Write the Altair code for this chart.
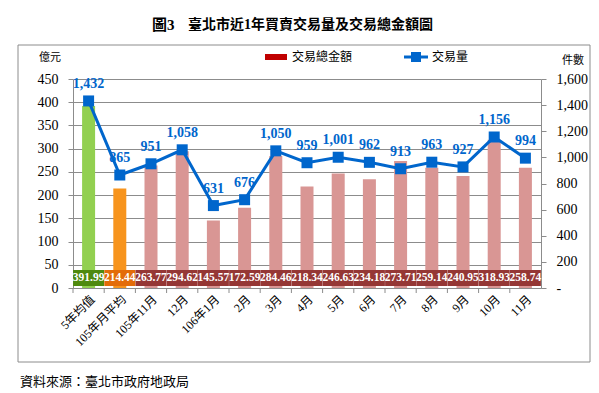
import altair as alt
import pandas as pd

categories = ['5年均值', '105年月平均', '105年11月', '12月', '106年1月', '2月', '3月',
              '4月', '5月', '6月', '7月', '8月', '9月', '10月', '11月']
amounts = [391.99, 214.44, 263.77, 294.62, 145.57, 172.59, 284.46,
           218.34, 246.63, 234.18, 273.71, 259.14, 240.95, 318.93, 258.74]
volumes = [1432, 865, 951, 1058, 631, 676, 1050,
           959, 1001, 962, 913, 963, 927, 1156, 994]
groups = ['avg5', 'avg105'] + ['month'] * 13

title_fig = '圖3'
title_main = '臺北市近1年買賣交易量及交易總金額圖'
left_unit = '億元'
right_unit = '件數'
legend_amount = '交易總金額'
legend_volume = '交易量'
source_text = '資料來源：臺北市政府地政局'

df = pd.DataFrame({'cat': categories, 'amount': amounts, 'volume': volumes,
                   'group': groups})
one = pd.DataFrame({'k': [0]})

SERIF = 'Liberation Serif, Noto Sans CJK TC'
CJK = 'Noto Sans CJK TC'
BLUE = '#0066CC'
GRAY = '#8c8c8c'

xaxis = alt.Axis(title=None, labelAngle=-45, labelAlign='right',
                 labelBaseline='middle', labelFont=SERIF,
                 labelFontSize=12, labelColor='black', ticks=False,
                 labelPadding=9, labelOffset=4, domainColor=GRAY)
xscale = alt.Scale(paddingInner=0, paddingOuter=0)


def X(**kw):
    return alt.X('cat:N', sort=categories, scale=xscale, axis=xaxis, **kw)


bars = alt.Chart(df).mark_bar(size=13).encode(
    x=X(),
    y=alt.Y('amount:Q', scale=alt.Scale(domain=[0, 450]),
            axis=alt.Axis(title=None, values=list(range(0, 451, 50)),
                          labelFont=SERIF, labelFontSize=14, labelColor='black',
                          grid=True, gridColor=GRAY, domainColor=GRAY,
                          tickColor=GRAY, tickSize=5, labelPadding=10)),
    color=alt.Color('group:N', scale=alt.Scale(domain=['avg5', 'avg105', 'month'],
                                               range=['#92D050', '#F7941D', '#D99694']),
                    legend=None),
)

xticks = alt.Chart(df).mark_rule(color=GRAY).encode(
    x=X(bandPosition=0),
    y=alt.value(209), y2=alt.value(214),
)

boxes = alt.Chart(df).mark_bar(size=31).encode(
    x=X(),
    y=alt.value(191), y2=alt.value(207),
    color=alt.Color('group:N', scale=alt.Scale(domain=['avg5', 'avg105', 'month'],
                                               range=['#4E8A0E', '#E36C09', '#953735']),
                    legend=None),
)

box_text = alt.Chart(df).mark_text(color='white', font=SERIF, fontSize=11.5,
                                   fontWeight='bold').encode(
    x=X(), y=alt.value(199),
    text=alt.Text('amount:Q', format='.2f'),
)

vscale = alt.Scale(domain=[0, 1600])
line = alt.Chart(df).mark_line(color=BLUE, strokeWidth=3).encode(
    x=X(),
    y=alt.Y('volume:Q', scale=vscale,
            axis=alt.Axis(title=None, orient='right',
                          values=list(range(0, 1601, 200)),
                          labelExpr="datum.value == 0 ? '-' : format(datum.value, ',')",
                          labelFont=SERIF, labelFontSize=14, labelColor='black',
                          grid=False, domainColor=GRAY, tickColor=GRAY,
                          tickSize=5, labelPadding=10)),
)
points = alt.Chart(df).mark_square(size=121, color=BLUE, opacity=1).encode(
    x=X(), y=alt.Y('volume:Q', scale=vscale, axis=None),
)
vol_text = alt.Chart(df).mark_text(color=BLUE, font=SERIF, fontSize=14,
                                   fontWeight='bold', dy=-17).encode(
    x=X(), y=alt.Y('volume:Q', scale=vscale, axis=None),
    text=alt.Text('volume:Q', format=','),
)

frame = alt.Chart(one).mark_rect(fillOpacity=0, stroke=GRAY, strokeWidth=1).encode(
    x=alt.value(-55), x2=alt.value(517), y=alt.value(-34), y2=alt.value(283))


def label(txt, x, y, size=12, weight='normal', font=CJK, color='black', align='left'):
    return alt.Chart(one).mark_text(text=txt, fontSize=size, fontWeight=weight,
                                    font=font, color=color, align=align,
                                    baseline='middle').encode(
        x=alt.value(x), y=alt.value(y))


t1 = label(title_fig, 79, -54, size=15, weight='bold', font=SERIF)
t2 = label(title_main, 115, -54, size=14, weight='bold', font=SERIF)
u1 = label(left_unit, -34, -21, size=11)
u2 = label(right_unit, 489, -18, size=11)
lg1_rect = alt.Chart(one).mark_rect(color='#C00000').encode(
    x=alt.value(192), x2=alt.value(214), y=alt.value(-25), y2=alt.value(-19))
lg1_text = label(legend_amount, 219, -22, size=12)
lg2_line = alt.Chart(one).mark_rule(color=BLUE, strokeWidth=3).encode(
    x=alt.value(331), x2=alt.value(355), y=alt.value(-22))
lg2_pt = alt.Chart(one).mark_square(size=100, color=BLUE, opacity=1).encode(
    x=alt.value(343), y=alt.value(-22))
lg2_text = label(legend_volume, 359, -22, size=12)
src = label(source_text, -53, 303, size=13)

chart = alt.layer(
    frame, bars, xticks, boxes, box_text, line, points, vol_text,
    t1, t2, u1, u2, lg1_rect, lg1_text, lg2_line, lg2_pt, lg2_text, src,
).resolve_scale(
    y='independent', color='independent'
).properties(
    width=468, height=209,
    autosize=alt.AutoSizeParams(type='none'),
    padding={'left': 65, 'top': 71, 'right': 50, 'bottom': 105},
    background='white',
).configure_view(stroke=None)

chart.save("out.html", embed_options={"renderer": "svg", "actions": False})
